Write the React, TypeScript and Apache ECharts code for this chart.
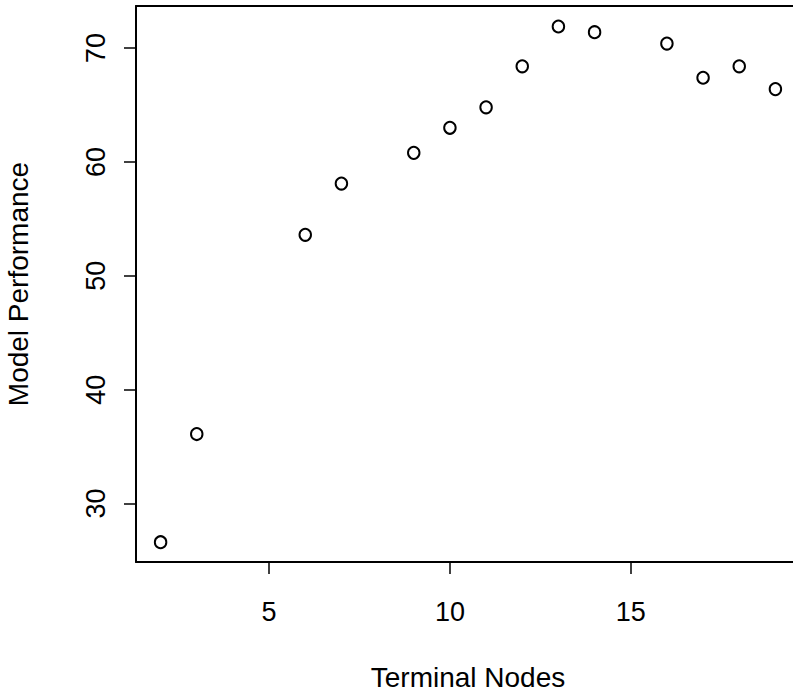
import React, { useEffect, useRef } from "react";
import * as echarts from "echarts";

const terminalNodes = [2, 3, 6, 7, 9, 10, 11, 12, 13, 14, 16, 17, 18, 19];
const modelPerformance = [26.6, 36.1, 53.6, 58.1, 60.8, 63.0, 64.8, 68.4, 71.9, 71.4, 70.4, 67.4, 68.4, 66.4];
const xTicks = [5, 10, 15];
const yTicks = [30, 40, 50, 60, 70];

const FONT = "'Liberation Sans', Arial, Helvetica, sans-serif";

export default function App() {
  const ref = useRef<HTMLDivElement>(null);
  useEffect(() => {
    const chart = echarts.init(ref.current!, null, { renderer: "svg" });
    const pts = terminalNodes.map((x, i) => [x, modelPerformance[i]]);
    chart.setOption({
      animation: false,
      backgroundColor: "#ffffff",
      grid: { left: 136, top: 6, right: -7, bottom: 132, containLabel: false, outerBoundsMode: "none" },
      xAxis: [
        {
          type: "value",
          min: 1.32,
          max: 19.68,
          name: "Terminal Nodes",
          nameLocation: "middle",
          nameGap: 101,
          nameTextStyle: { fontFamily: FONT, fontSize: 28, color: "#000" },
          axisLine: { show: true, onZero: false, lineStyle: { color: "#000", width: 2 } },
          axisTick: { show: true, length: 12, lineStyle: { color: "#000", width: 1.5 }, customValues: xTicks },
          axisLabel: { fontFamily: FONT, fontSize: 27, color: "#000", margin: 36, customValues: xTicks },
          splitLine: { show: false },
        },
        {
          type: "value",
          position: "top",
          min: 1.32,
          max: 19.68,
          axisLine: { show: true, lineStyle: { color: "#000", width: 2 } },
          axisTick: { show: false },
          axisLabel: { show: false },
          splitLine: { show: false },
        },
      ],
      yAxis: {
        type: "value",
        min: 24.86,
        max: 73.7,
        name: "Model Performance",
        nameLocation: "middle",
        nameGap: 104,
        nameTextStyle: { fontFamily: FONT, fontSize: 28, color: "#000" },
        axisLine: { show: true, onZero: false, lineStyle: { color: "#000", width: 2 } },
        axisTick: { show: true, length: 12, lineStyle: { color: "#000", width: 1.5 }, customValues: yTicks },
        axisLabel: {
          fontFamily: FONT,
          fontSize: 27,
          color: "#000",
          margin: 40,
          rotate: 90,
          customValues: yTicks,
          align: "center",
          verticalAlign: "middle",
        },
        splitLine: { show: false },
      },
      series: [
        {
          type: "scatter",
          data: pts,
          symbol: "emptyCircle",
          symbolSize: [11.5, 12],
          itemStyle: { color: "#000", borderColor: "#000", borderWidth: 2.6, opacity: 1 },
        },
      ],
    });
    return () => chart.dispose();
  }, []);
  return (
    <div
      ref={ref}
      style={{ position: "fixed", left: 0, top: 0, width: 793, height: 694, background: "#fff" }}
    />
  );
}
